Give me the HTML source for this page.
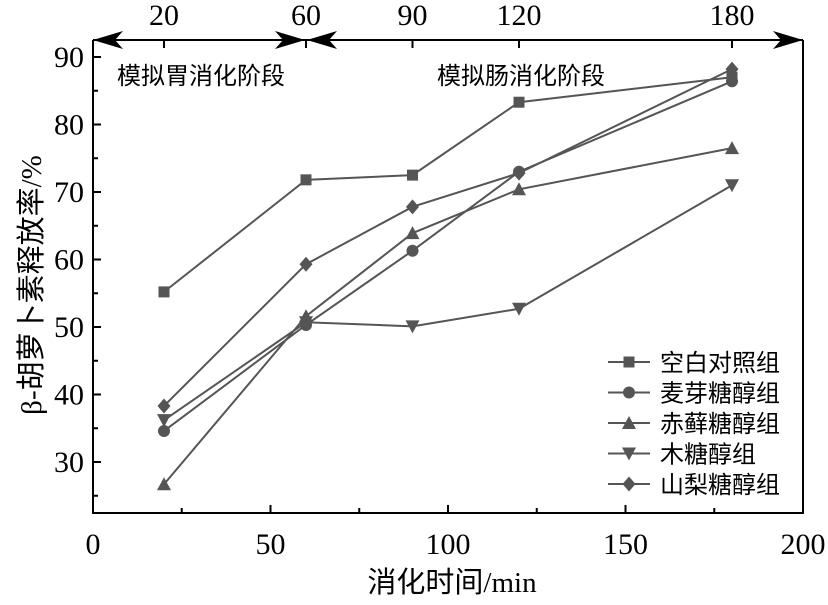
<!DOCTYPE html>
<html><head><meta charset="utf-8"><style>
body{margin:0;background:#fff;}
svg text{font-family:"Liberation Serif","Noto Sans CJK SC",serif;fill:#000;}
</style></head><body>
<svg width="828" height="600" viewBox="0 0 828 600">
<g id="axes"></g><g id="series"></g><g id="legend"></g>
</svg>
<script>
const timesMin = [20, 60, 90, 120, 180];
const seriesNames = ["空白对照组","麦芽糖醇组","赤藓糖醇组","木糖醇组","山梨糖醇组"];
const blankVals = [55.2, 71.8, 72.5, 83.3, 87.0];
const maltitolVals = [34.6, 50.3, 61.3, 73.0, 86.4];
const erythritolVals = [26.7, 51.6, 63.9, 70.4, 76.5];
const xylitolVals = [36.2, 50.7, 50.1, 52.7, 71.0];
const sorbitolVals = [38.3, 59.3, 67.8, 72.8, 88.2];
const xTicks = [0, 50, 100, 150, 200];
const yTicks = [30, 40, 50, 60, 70, 80, 90];
const topTicks = [20, 60, 90, 120, 180];

const NS="http://www.w3.org/2000/svg";
const X0=93, X1=803, Y0=513, Y1=40;
const xs=v=>X0+(v-0)*(X1-X0)/200;
const ys=v=>57+(90-v)*6.75;
function mk(tag,attrs,parent){const e=document.createElementNS(NS,tag);for(const k in attrs)e.setAttribute(k,attrs[k]);parent.appendChild(e);return e;}
const axes=document.getElementById('axes'), sg=document.getElementById('series'), lg=document.getElementById('legend');
const ink="#000", col="#555";

let p=mk('path',{d:`M${X0},${Y1}V${Y0}H${X1}V${Y1}`,fill:'none',stroke:ink,'stroke-width':2},axes);


let tl=mk('line',{x1:X0,y1:Y1,x2:X1,y2:Y1,stroke:ink,'stroke-width':2},axes);


function arrow(tipX,dir,name){const a=mk('path',{d:`M${tipX},${Y1} L${tipX-dir*30},${Y1-9} L${tipX-dir*22},${Y1} L${tipX-dir*30},${Y1+9}Z`,fill:ink},axes);

}
arrow(X0,-1,'arrow-left-stomach');arrow(xs(60)-1,1,'arrow-right-stomach');arrow(xs(60)+1,-1,'arrow-left-intestine');arrow(X1,1,'arrow-right-intestine');

xTicks.forEach(v=>{mk('line',{x1:xs(v),y1:Y0,x2:xs(v),y2:Y0-8,stroke:ink,'stroke-width':2},axes);
 const t=mk('text',{x:xs(v),y:Y0+41,'text-anchor':'middle','font-size':30},axes);t.textContent=v;
 
 });
[25,75,125,175].forEach(v=>mk('line',{x1:xs(v),y1:Y0,x2:xs(v),y2:Y0-5,stroke:ink,'stroke-width':2},axes));
yTicks.forEach(v=>{mk('line',{x1:X0,y1:ys(v),x2:X0+8,y2:ys(v),stroke:ink,'stroke-width':2},axes);
 const t=mk('text',{x:X0-9,y:ys(v)+10,'text-anchor':'end','font-size':30},axes);t.textContent=v;
 
 });
[25,35,45,55,65,75,85].forEach(v=>mk('line',{x1:X0,y1:ys(v),x2:X0+5,y2:ys(v),stroke:ink,'stroke-width':2},axes));
topTicks.forEach(v=>{mk('line',{x1:xs(v),y1:Y1,x2:xs(v),y2:Y1+8,stroke:ink,'stroke-width':2},axes);
 const t=mk('text',{x:xs(v),y:25,'text-anchor':'middle','font-size':30},axes);t.textContent=v;
 
 });

let a1=mk('text',{x:201,y:84,'text-anchor':'middle','font-size':24},axes);a1.textContent='模拟胃消化阶段';


let a2=mk('text',{x:521,y:84,'text-anchor':'middle','font-size':24},axes);a2.textContent='模拟肠消化阶段';


let xt=mk('text',{x:452,y:592,'text-anchor':'middle','font-size':29},axes);xt.textContent='消化时间/min';


let yt=mk('text',{x:0,y:0,'text-anchor':'middle','font-size':29,transform:'translate(41,285) rotate(-90)'},axes);yt.textContent='β-胡萝卜素释放率/%';



function marker(type,cx,cy,parent){let e;
 if(type==='square')e=mk('rect',{x:cx-5.5,y:cy-5.5,width:11,height:11,fill:col},parent);
 else if(type==='circle')e=mk('circle',{cx,cy,r:6,fill:col},parent);
 else if(type==='up')e=mk('path',{d:`M${cx},${cy-7}L${cx+7},${cy+6}L${cx-7},${cy+6}Z`,fill:col},parent);
 else if(type==='down')e=mk('path',{d:`M${cx},${cy+7}L${cx+7},${cy-6}L${cx-7},${cy-6}Z`,fill:col},parent);
 else e=mk('path',{d:`M${cx},${cy-7.5}L${cx+6.5},${cy}L${cx},${cy+7.5}L${cx-6.5},${cy}Z`,fill:col},parent);
 return e;}
const allVals=[blankVals,maltitolVals,erythritolVals,xylitolVals,sorbitolVals];
const types=['square','circle','up','down','diamond'];
const keys=['blank','maltitol','erythritol','xylitol','sorbitol'];
allVals.forEach((vals,i)=>{
 const g=mk('g',{},sg);
 
 
 const pts=vals.map((v,j)=>xs(timesMin[j])+','+ys(v)).join(' ');
 mk('polyline',{points:pts,fill:'none',stroke:col,'stroke-width':2},g);
 vals.forEach((v,j)=>{const m=marker(types[i],xs(timesMin[j]),ys(v),g);
  
  });
 const ly=362+i*30.5;
 const le=mk('g',{},lg);
 
 
 mk('line',{x1:608,y1:ly,x2:650,y2:ly,stroke:col,'stroke-width':2},le);
 marker(types[i],629,ly,le);
 const t=mk('text',{x:660,y:ly+9,'font-size':24},le);t.textContent=seriesNames[i];
});
</script>
</body></html>
